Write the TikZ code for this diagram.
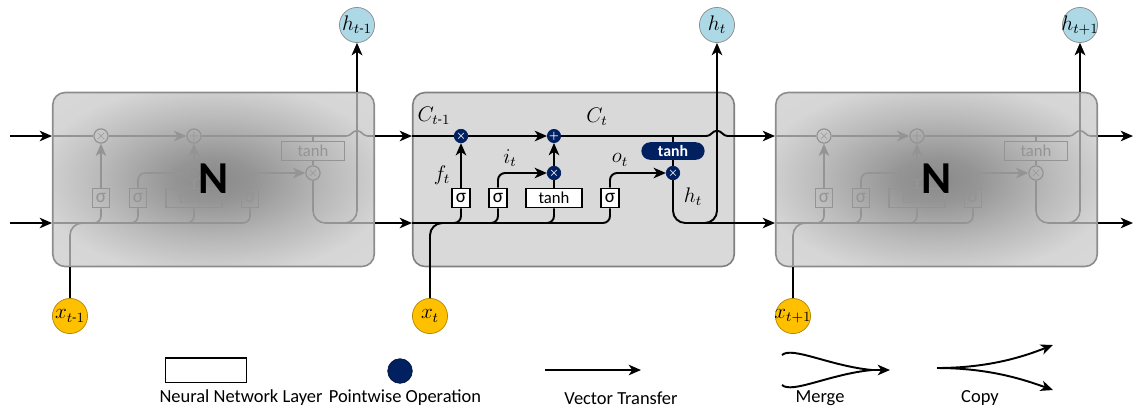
\documentclass[tikz,border=0pt]{standalone}
\usepackage{amsmath, amssymb}
\usepackage{fontspec}
\setmainfont{Carlito}
\usetikzlibrary{arrows.meta}

\definecolor{opnavy}{RGB}{0,32,96}
\definecolor{xgold}{RGB}{255,192,0}
\definecolor{hblue}{RGB}{173,216,230}

\pgfdeclareradialshading{ghostshade}{\pgfpoint{0bp}{0bp}}{color(0bp)=(black!46); color(6bp)=(black!42); color(18bp)=(black!27); color(28bp)=(black!16); color(50bp)=(black!15)}

\tikzset{
  link/.style={line width=1.1pt, draw=black},
  wire/.style={line width=1.1pt, draw=black},
  pw/.style={circle, fill=opnavy, draw=opnavy, text=white, inner sep=0pt, minimum size=7.5pt, font=\tiny\boldmath},
  nnl/.style={rectangle, draw=black, fill=white, line width=0.9pt, inner sep=0pt, minimum width=10pt, minimum height=11pt, font=\fontsize{11}{11}\selectfont},
  nnlw/.style={nnl, minimum width=32pt, font=\fontsize{9.5}{9.5}\selectfont},
  thpill/.style={rectangle, rounded corners=5pt, fill=opnavy, text=white, inner sep=0pt, minimum width=36pt, minimum height=10pt, font=\fontsize{9}{9}\selectfont\bfseries},
  xcirc/.style={circle, fill=xgold, draw=xgold!70!black, inner sep=-1.5pt, minimum size=20pt, font=\fontsize{11.5}{11.5}\selectfont},
  hcirc/.style={circle, fill=hblue, draw=black!45, inner sep=-1.5pt, minimum size=20pt, font=\fontsize{11.5}{11.5}\selectfont},
  cellbox/.style={rectangle, rounded corners=7pt, fill=black!15, draw=black!50, line width=0.9pt, minimum width=183pt, minimum height=99pt},
  ghostbox/.style={cellbox, shade, shading=ghostshade, draw=black!45},
  ghost/.style={
    wire/.style={line width=0.9pt, draw=black!42},
    pw/.style={circle, draw=black!42, fill=none, text=black!42, line width=0.7pt, inner sep=0pt, minimum size=8pt, font=\scriptsize},
    nnl/.style={rectangle, draw=black!42, fill=none, text=black!42, line width=0.8pt, inner sep=0pt, minimum width=10pt, minimum height=11pt, font=\fontsize{11}{11}\selectfont},
    thpill/.style={rectangle, draw=black!42, fill=none, text=black!42, line width=0.8pt, inner sep=0pt, minimum width=36pt, minimum height=11pt, font=\fontsize{9.5}{9.5}\selectfont}},
  lbl/.style={font=\fontsize{11.5}{11.5}\selectfont},
  legend/.style={font=\fontsize{10.5}{12}\selectfont}
}

% one LSTM cell, x relative to the left edge of its box
\newcommand{\lstmcell}[2]{%
  \coordinate (cin) at (0,136);
  \coordinate (cout) at (323,136);
  \coordinate (hin) at (0,223);
  \coordinate (hout) at (323,223);
  \coordinate (hop) at (305,136);
  \coordinate (hsplit) at (288,223);
  \node[pw] (fx) at (49,136) {$\times$};
  \node[pw] (ap) at (142,136) {$+$};
  \node[pw] (ix) at (142,173) {$\times$};
  \node[pw] (ox) at (261,173) {$\times$};
  \node[nnl] (sf) at (49,198) {σ};
  \node[nnl] (si) at (86,198) {σ};
  \node[nnlw] (tc) at (142,198) {tanh};
  \node[nnl] (so) at (198,198) {σ};
  \node[thpill] (th) at (261,151) {tanh};
  \node[xcirc] (xc) at (18,316) {#1};
  \node[hcirc] (hc) at (305,25) {#2};
  % cell state
  \draw[wire] (cin) -- (fx);
  \draw[wire,->] (fx) -- (ap);
  \draw[wire] (ap) -- ([xshift=-6pt]hop) to[out=0,in=180] ++(6pt,3pt) to[out=0,in=180] ++(6pt,-3pt) -- (cout);
  % gates
  \draw[wire,->] (sf) -- (fx);
  \draw[wire,->,rounded corners=4pt] (si) |- (ix);
  \draw[wire] (tc) -- (ix);
  \draw[wire,->] (ix) -- (ap);
  \draw[wire,->,rounded corners=4pt] (so) |- (ox);
  \draw[wire] (th) -- (th |- cin);
  \draw[wire] (th) -- (ox);
  % hidden state
  \draw[wire,rounded corners=4pt] (hin) -| (sf);
  \draw[wire,rounded corners=4pt] (hin) -| (si);
  \draw[wire,rounded corners=4pt] (hin) -| (tc);
  \draw[wire,rounded corners=4pt] (hin) -| (so);
  \draw[wire,rounded corners=7pt] (xc) |- (sf |- hin);
  \draw[wire,rounded corners=7pt] (ox) |- (hout);
  \draw[wire,->,rounded corners=7pt] (hsplit) -| (hc);
}

\begin{document}
\begin{tikzpicture}[x=0.02cm, y=-0.02cm, >={Stealth[length=7pt,width=6pt,inset=2pt]}]
\useasboundingbox (0,0) rectangle (1134,414);

% left cell
\begin{scope}[shift={(52,0)}, name prefix=L-, ghost]
  \node[ghostbox] (box) at (161.5,179.5) {};
  \lstmcell{$x_{t\text{-}1}$}{$h_{t\text{-}1}$}
  \draw[link] (xc) -- (xc |- box.south);
  \draw[link,->] (hc |- box.north) -- (hc);
  \node[font=\fontsize{26}{26}\selectfont\bfseries] (N) at (162,179) {N};
\end{scope}

% middle cell
\begin{scope}[shift={(412,0)}, name prefix=M-]
  \node[cellbox] (box) at (161.5,179.5) {};
  \lstmcell{$x_t$}{$h_t$}
  \node[lbl] (cprev) at (22,116) {$C_{t\text{-}1}$};
  \node[lbl] (cnow) at (185,117) {$C_t$};
  \node[lbl] (flbl) at (30,175) {$f_t$};
  \node[lbl] (ilbl) at (98,158) {$i_t$};
  \node[lbl] (olbl) at (208,160) {$o_t$};
  \node[lbl] (hlbl) at (281,197) {$h_t$};
\end{scope}

% right cell
\begin{scope}[shift={(775,0)}, name prefix=R-, ghost]
  \node[ghostbox] (box) at (161.5,179.5) {};
  \lstmcell{$x_{t+1}$}{$h_{t+1}$}
  \draw[link] (xc) -- (xc |- box.south);
  \draw[link,->] (hc |- box.north) -- (hc);
  \node[font=\fontsize{26}{26}\selectfont\bfseries] (N) at (162,179) {N};
\end{scope}

% links between cells
\coordinate (inC) at (10,136);
\coordinate (inH) at (10,223);
\coordinate (outC) at (1133,136);
\coordinate (outH) at (1133,223);
\draw[link,->] (inC) -- (L-cin);
\draw[link,->] (inH) -- (L-hin);
\draw[link,->] (L-cout) -- (M-cin);
\draw[link,->] (L-hout) -- (M-hin);
\draw[link,->] (M-cout) -- (R-cin);
\draw[link,->] (M-hout) -- (R-hin);
\draw[link,->] (R-cout) -- (outC);
\draw[link,->] (R-hout) -- (outH);

% legend
\node[nnl, minimum width=46pt, minimum height=14pt] (lglayer) at (206,370) {};
\node[legend] (lglayertxt) at (241,398) {Neural Network Layer};
\node[pw, minimum size=14pt, draw=opnavy!70!black] (lgpw) at (400,371) {};
\node[legend] (lgpwtxt) at (405,398) {Pointwise Operation};
\coordinate (vta) at (545,370);
\coordinate (vtb) at (641,370);
\draw[link,->] (vta) -- (vtb);
\node[legend] (lgvttxt) at (621,398) {Vector Transfer};
\coordinate (mga) at (782,355);
\coordinate (mgb) at (782,385);
\coordinate (mgc) at (872,370);
\coordinate (mgd) at (890,370);
\draw[link] (mga) .. controls (792,346) and (830,366) .. (mgc);
\draw[link] (mgb) .. controls (792,394) and (830,374) .. (mgc);
\draw[link,->] (mgc) -- (mgd);
\node[legend] (lgmgtxt) at (820,398) {Merge};
\coordinate (cpa) at (937,368);
\coordinate (cpb) at (1053,345);
\coordinate (cpc) at (1053,390);
\draw[link,->] (cpa) .. controls (990,368) and (1025,356) .. (cpb);
\draw[link,->] (cpa) .. controls (990,368) and (1025,380) .. (cpc);
\node[legend] (lgcptxt) at (980,398) {Copy};
\end{tikzpicture}
\end{document}
